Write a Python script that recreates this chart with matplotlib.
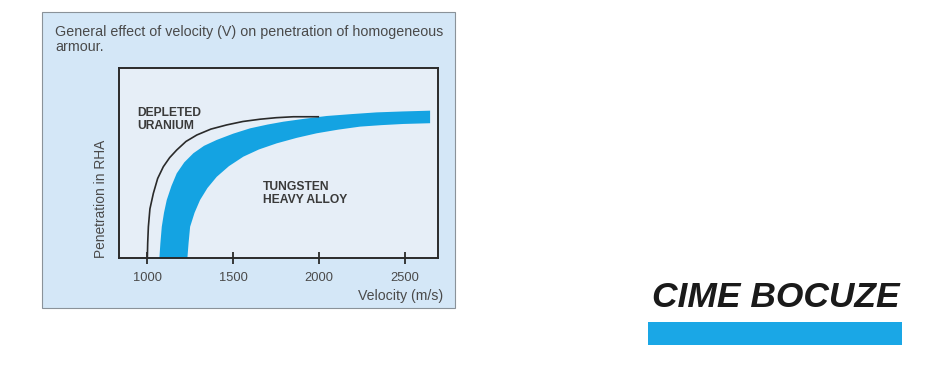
import numpy as np
import matplotlib.pyplot as plt
from matplotlib.patches import Rectangle

# velocity (m/s) vs relative penetration (0-100)
du_vel = [1000, 1002, 1006, 1015, 1035, 1060, 1093, 1130, 1171, 1225, 1288, 1370, 1462, 1556, 1656, 1750, 1850, 1995]
du_pen = [0, 8, 16.6, 26, 34.2, 42, 48.2, 53, 57, 61.5, 64.9, 68, 70.2, 72, 73.2, 74, 74.5, 74.5]

thal_upper_vel = [1070, 1076, 1084, 1097, 1113, 1140, 1171, 1215, 1268, 1330, 1404, 1500, 1598, 1700, 1792, 1920, 2044, 2190, 2335, 2490, 2646]
thal_upper_pen = [0, 8, 16.6, 24, 30.7, 38, 44.7, 50.5, 55.3, 59.2, 62.3, 65.6, 68.4, 70.4, 71.9, 73.5, 74.9, 75.9, 76.8, 77.3, 77.7]
thal_lower_vel = [1233, 1240, 1249, 1275, 1307, 1350, 1404, 1475, 1559, 1650, 1753, 1870, 1986, 2110, 2238, 2365, 2490, 2646]
thal_lower_pen = [0, 8, 16.6, 24, 30.7, 37, 42.9, 48.5, 53.5, 57.3, 60.5, 63.4, 65.8, 67.7, 69.3, 70.1, 70.7, 71.1]

x_ticks = [1000, 1500, 2000, 2500]
x_ticklabels = ['1000', '1500', '2000', '2500']

plt.rcParams['font.family'] = ['Liberation Sans', 'DejaVu Sans']

fig = plt.figure(figsize=(9.53, 3.9), dpi=100)
W, H = 953, 390

def fx(px):
    return px / W

def fy(py):
    return 1 - py / H

# light blue panel behind the chart
panel = Rectangle((fx(42), fy(308)), fx(455) - fx(42), fy(12) - fy(308),
                  transform=fig.transFigure, facecolor='#d4e7f7',
                  edgecolor='#8a9299', linewidth=0.8, zorder=-5)
fig.patches.append(panel)

fig.text(fx(55), fy(51), 'General effect of velocity (V) on penetration of homogeneous\narmour.',
         fontsize=10.3, color='#4a4a4a', ha='left', va='baseline', linespacing=1.1)

ax = fig.add_axes([fx(119), fy(258.3), fx(438) - fx(119), fy(68.3) - fy(258.3)])
ax.set_facecolor('#e6eef7')

# tungsten heavy alloy band
band_v = np.concatenate([thal_upper_vel, thal_lower_vel[::-1]])
band_p = np.concatenate([thal_upper_pen, thal_lower_pen[::-1]])
ax.fill(band_v, band_p, color='#14a3e2', linewidth=0, zorder=2)

# depleted uranium curve
ax.plot(du_vel, du_pen, color='#2a2a2a', linewidth=1.2, zorder=3)

ax.set_xlim(835, 2692)
ax.set_ylim(0, 100)
ax.set_xticks(x_ticks)
ax.set_xticklabels(x_ticklabels)
ax.set_yticks([])
ax.tick_params(axis='x', direction='inout', length=8, width=1.3, color='#2a2a2a',
               labelsize=9.3, labelcolor='#4a4a4a', pad=6)
for s in ax.spines.values():
    s.set_color('#2a2a2a')
    s.set_linewidth(1.4)

ax.text(942, 67.9, 'DEPLETED\nURANIUM', fontsize=8.7, fontweight='bold', color='#3a3a3a',
        ha='left', va='baseline', linespacing=1.15)
ax.text(1672, 28.9, 'TUNGSTEN\nHEAVY ALLOY', fontsize=8.7, fontweight='bold', color='#3a3a3a',
        ha='left', va='baseline', linespacing=1.15)

fig.text(fx(443), fy(300), 'Velocity (m/s)', fontsize=10.2, color='#4a4a4a', ha='right', va='baseline')
fig.text(fx(101), fy(258), 'Penetration in RHA', fontsize=9.9, color='#4a4a4a',
         rotation=90, ha='center', va='bottom')

# logo on the right
fig.text(fx(652), fy(307), 'CIME BOCUZE', fontsize=25.5, fontweight='bold', fontstyle='italic',
         color='#1a1a1a', ha='left', va='baseline')
bar = Rectangle((fx(648), fy(345)), fx(902) - fx(648), fy(322) - fy(345),
                transform=fig.transFigure, facecolor='#1aa7e6', edgecolor='none')
fig.patches.append(bar)

fig.savefig('out.png', dpi=100, facecolor='white')
